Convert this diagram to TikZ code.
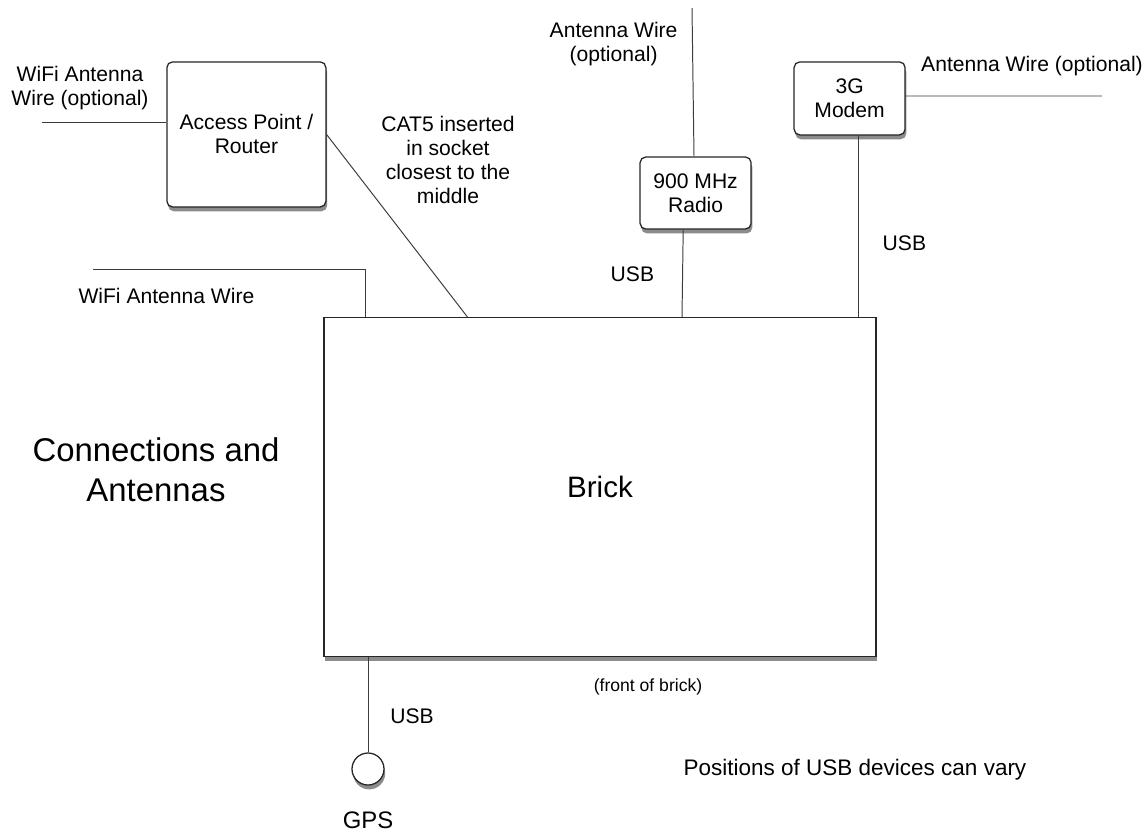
\documentclass[tikz,border=0pt]{standalone}
\usepackage{fontspec}
\setmainfont{Liberation Sans}
\usepackage{tikz}
\usetikzlibrary{positioning,calc,shadows}
\definecolor{wireGrey}{RGB}{60,60,60}
\tikzset{
    every node/.append style={align=center},
    shade/.style={drop shadow={fill=black,opacity=0.45,shadow xshift=0.03cm,shadow yshift=-0.11cm}},
    unit/.style={rectangle,draw=black!85,line width=0.9pt,rounded corners=4pt,fill=white,
        font=\fontsize{15}{17}\selectfont,shade},
    brickbox/.style={rectangle,draw=black!85,line width=0.9pt,fill=white,
        minimum width=13.8cm,minimum height=8.475cm,font=\fontsize{21}{25}\selectfont,shade},
    gpsdot/.style={circle,draw=black!85,line width=0.9pt,fill=white,minimum size=0.8cm,inner sep=0pt,shade},
    wire/.style={draw=wireGrey,line width=0.7pt},
    lbl/.style={font=\fontsize{15}{17}\selectfont,inner sep=0pt},
    note/.style={font=\fontsize{12.5}{15}\selectfont,inner sep=0pt},
    title/.style={font=\fontsize{23.4}{28.5}\selectfont,inner sep=0pt}
}
\begin{document}
\begin{tikzpicture}
    \useasboundingbox (0,0) rectangle (28.7,-20.8);
    % devices
    \node[brickbox]                                               (brick)  at (15.0,-12.175) {Brick};
    \node[unit,minimum width=3.975cm,minimum height=3.625cm]      (access) at (6.16,-3.36)   {Access Point /\\Router};
    \node[unit,minimum width=2.775cm,minimum height=1.8cm]        (radio)  at (17.39,-4.825) {900 MHz\\Radio};
    \node[unit,minimum width=2.775cm,minimum height=1.825cm]      (modem)  at (21.24,-2.46)  {3G\\Modem};
    \node[gpsdot]                                                 (gps)    at (9.2,-19.225)  {};
    % free wire ends and sockets
    \coordinate (wifiOptEnd)  at (1.05,-3.05);
    \coordinate (wifiEnd)     at (2.325,-6.725);
    \coordinate (radioAntEnd) at (17.3,-0.2);
    \coordinate (modemAntEnd) at (27.55,-2.4);
    \coordinate (radioOut)    at ($(radio.south)+(-0.31,0)$);
    \coordinate (modemOut)    at ($(modem.south)+(0.21,0)$);
    \coordinate (cat5In)      at ($(brick.north west)+(3.6,0)$);
    \coordinate (wifiIn)      at ($(brick.north west)+(1.05,0)$);

    % labels
    \node[lbl]   (wifiOptLbl)  at (2.0,-2.2)     {WiFi Antenna\\Wire (optional)};
    \node[lbl]   (cat5Lbl)     at (11.2,-4.0)    {CAT5 inserted\\in socket\\closest to the\\middle};
    \node[lbl]   (wifiLbl)     at (4.16,-7.4)    {WiFi Antenna Wire};
    \node[lbl]   (radioAntLbl) at (15.34,-1.11)  {Antenna Wire\\(optional)};
    \node[lbl]   (modemAntLbl) at (25.8,-1.65)   {Antenna Wire (optional)};
    \node[lbl]   (radioUsb)    at (15.81,-6.85)  {USB};
    \node[lbl]   (modemUsb)    at (22.61,-6.075) {USB};
    \node[lbl]   (gpsUsb)      at (10.3,-17.9)   {USB};
    \node[lbl,font=\fontsize{17}{20}\selectfont] (gpsLbl) at (9.2,-20.5) {GPS};
    \node[note]  (frontLbl)    at (16.2,-17.175) {(front of brick)};
    \node[lbl,font=\fontsize{16}{19}\selectfont] (varyLbl) at (21.375,-19.25) {Positions of USB devices can vary};
    \node[title] (titleLbl)    at (3.9,-11.75)   {Connections and\\Antennas};

    % wires
    \draw[wire] (wifiOptEnd) -- (wifiOptEnd -| access.west);
    \draw[wire] (access.east) -- (cat5In);
    \draw[wire] (wifiEnd) -| (wifiIn);
    \draw[wire] (radioAntEnd) -- ([xshift=-0.04cm]radio.north);
    \draw[wire] (radioOut) -- ([xshift=-0.03cm]radioOut |- brick.north);
    \draw[wire] (modemOut) -- (modemOut |- brick.north);
    \draw[wire] ([yshift=0.06cm]modem.east) -- (modemAntEnd);
    \draw[wire] (gps.north) -- (gps.north |- brick.south);
\end{tikzpicture}
\end{document}
